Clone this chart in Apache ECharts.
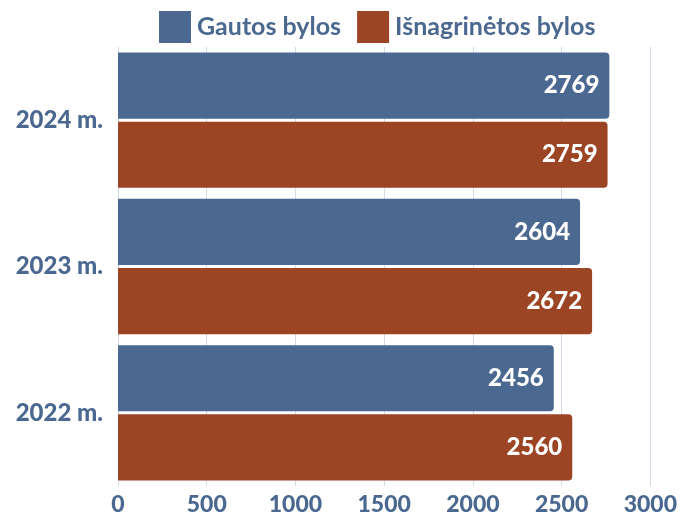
<!DOCTYPE html>
<html>
<head>
<meta charset="utf-8">
<script src="https://cdn.jsdelivr.net/npm/echarts@6/dist/echarts.min.js"></script>
<style>
html, body { margin: 0; padding: 0; background: #fff; }
#chart { width: 680px; height: 517px; }
</style>
</head>
<body>
<div id="chart"></div>
<script>
var years = ['2022 m.', '2023 m.', '2024 m.'];
var gautos = [2456, 2604, 2769];
var isnagrinetos = [2560, 2672, 2759];
var xTicks = [0, 500, 1000, 1500, 2000, 2500, 3000];

var blue = '#4b6990';
var rust = '#9c4524';
var font = 'Lato';

var dom = document.getElementById("chart");
var myChart = echarts.init(dom);

var valueLabel = {
    show: true,
    position: 'insideRight',
    distance: 10,
    color: '#fff',
    fontFamily: font,
    fontWeight: 900,
    fontSize: 24
};

var option = {
    animation: false,
    legend: {
        top: 6,
        left: 154,
        itemWidth: 32,
        itemHeight: 32,
        itemGap: 16,
        icon: 'rect',
        textStyle: {
            color: blue,
            fontFamily: font,
            fontWeight: 'bold',
            fontSize: 25,
            padding: [0, 0, 0, 1]
        },
        data: ['Gautos bylos', 'Išnagrinėtos bylos']
    },
    grid: {
        left: 118,
        right: 29,
        top: 47,
        bottom: 31
    },
    xAxis: {
        type: 'value',
        min: xTicks[0],
        max: xTicks[xTicks.length - 1],
        interval: 500,
        axisLine: { show: false },
        axisTick: { show: false },
        axisLabel: {
            margin: 7,
            color: blue,
            fontFamily: font,
            fontWeight: 900,
            fontSize: 23,
            formatter: function (value) {
                return String(value);
            }
        },
        splitLine: {
            lineStyle: { color: '#d3dae5', width: 1 }
        }
    },
    yAxis: {
        type: 'category',
        data: years,
        axisLine: { show: false },
        axisTick: { show: false },
        axisLabel: {
            margin: 15,
            color: blue,
            fontFamily: font,
            fontWeight: 900,
            fontSize: 24
        }
    },
    series: [{
        name: 'Gautos bylos',
        type: 'bar',
        data: gautos,
        barCategoryGap: '7.5%',
        barGap: '4.5%',
        itemStyle: { color: blue, borderRadius: [0, 4, 4, 0] },
        label: valueLabel
    }, {
        name: 'Išnagrinėtos bylos',
        type: 'bar',
        data: isnagrinetos,
        barCategoryGap: '7.5%',
        barGap: '4.5%',
        itemStyle: { color: rust, borderRadius: [0, 4, 4, 0] },
        label: valueLabel
    }],
    color: [blue, rust]
};

myChart.setOption(option, true);

window.onresize = function () {
    myChart.resize();
};
</script>
</body>
</html>
